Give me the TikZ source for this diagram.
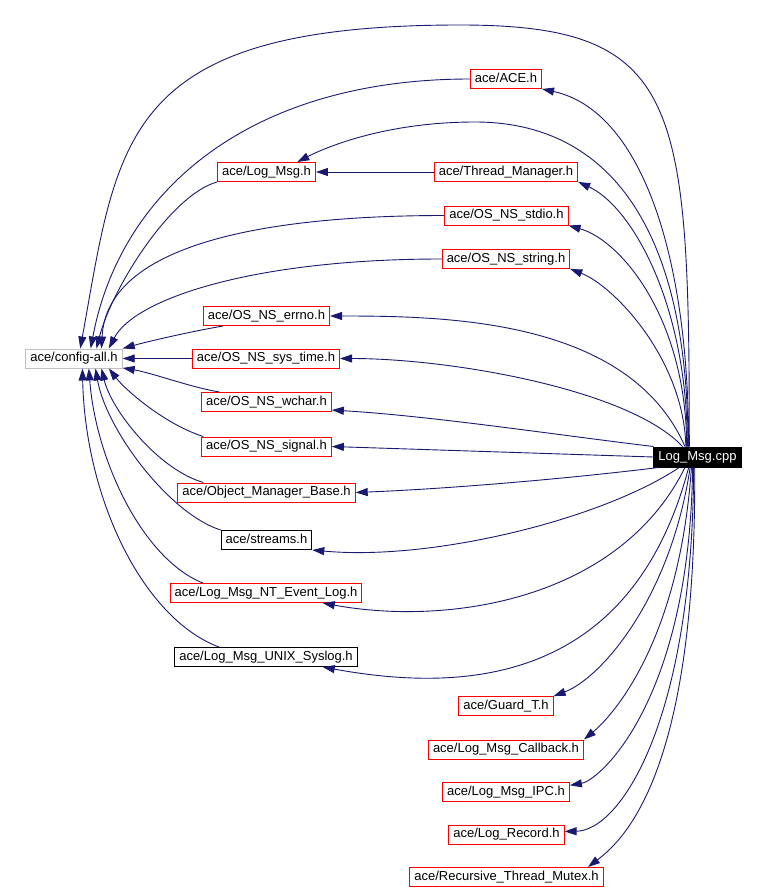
\documentclass[tikz,border=0pt]{standalone}
\usepackage{fontspec}
\setmainfont{Liberation Sans}
\usetikzlibrary{arrows.meta}
\definecolor{azul}{HTML}{191970}
\definecolor{rojo}{HTML}{FF0000}
\definecolor{gris}{HTML}{BFBFBF}
\tikzset{
	caja/.style={draw=#1, line width=1pt, minimum height=19pt, inner xsep=4.5pt, inner ysep=0pt,
	             text height=9.5pt, text depth=2.7pt},
	dep/.style={draw=azul, line width=0.9pt, -{Triangle[length=12pt,width=8pt]}}
}
\begin{document}
\begin{tikzpicture}[x=1pt, y=1pt, font=\fontsize{13pt}{15pt}\selectfont]
	\useasboundingbox (0,0) rectangle (766,-889);
	\foreach \n/\x/\y/\t/\c in {cfg/74/358.5/{ace/config-all.h}/gris,
	                            ace/506/79/{ace/ACE.h}/rojo, lmsg/266.5/172/{ace/Log\_Msg.h}/rojo,
	                            thread/506/172/{ace/Thread\_Manager.h}/rojo, stdio/506.5/215.5/{ace/OS\_NS\_stdio.h}/rojo,
	                            string/506/259/{ace/OS\_NS\_string.h}/rojo, errno/266.5/316/{ace/OS\_NS\_errno.h}/rojo,
	                            systime/266/358.5/{ace/OS\_NS\_sys\_time.h}/rojo, wchar/266.5/402/{ace/OS\_NS\_wchar.h}/rojo,
	                            signal/266.5/446.5/{ace/OS\_NS\_signal.h}/rojo, omb/266.5/492.5/{ace/Object\_Manager\_Base.h}/rojo,
	                            streams/266.5/540/{ace/streams.h}/black, nt/266/593/{ace/Log\_Msg\_NT\_Event\_Log.h}/rojo,
	                            unix/266/657/{ace/Log\_Msg\_UNIX\_Syslog.h}/black, guard/506/706/{ace/Guard\_T.h}/rojo,
	                            cb/506/749.5/{ace/Log\_Msg\_Callback.h}/rojo, ipc/506/792/{ace/Log\_Msg\_IPC.h}/rojo,
	                            logrec/506.5/834.5/{ace/Log\_Record.h}/rojo, rtm/506.5/877/{ace/Recursive\_Thread\_Mutex.h}/rojo} {
		\node[caja=\c] (\n) at (\x,-\y) {\t};
	}
	\node[caja=black, fill=black, text=white, minimum height=20pt] (cpp) at (697.5,-457) {Log\_Msg.cpp};
	\draw[dep] (cpp.128) .. controls +(0,347) and +(220,0) .. (460,-25) .. controls +(-340,0) and +(38,209) .. (cfg.58);
	\draw[dep] (cpp.132) .. controls +(0,217) and +(135,0) .. (475,-122) .. controls +(-85,0) and +(33,17) .. (lmsg.18);
	\draw[dep] (systime.west) -- (cfg.east);
	\draw[dep] (thread.west) -- (lmsg.east);
	\draw[dep] (cpp.west) -- (signal.east);
	\foreach \s/\ax/\ay/\bx/\by/\t in {ace.west/-219/0/30/159/cfg.31, lmsg.south west/-47/-13/15/59/cfg.24,
	                                   stdio.west/-196/0/5/99/cfg.20, string.west/-191/0/25/49/cfg.16,
	                                   errno.193/-30/-5/25/7/cfg.north east, wchar.168/-30/5/30/-5/cfg.-11,
	                                   signal.171/-38/12/17/-22/cfg.-16, omb.171/-45/13/10/-42/cfg.-20,
	                                   streams.north west/-51/16/11/-62/cfg.-25, nt.171/-60/24/7/-92/cfg.-34,
	                                   unix.168/-75/28/3/-132/cfg.-50,
	                                   cpp.130/0/197/97/-21/ace.south east, cpp.134/0/147/51/-23/thread.south east,
	                                   cpp.136/0/127/53/-15/stdio.south east, cpp.138/-2/87/44/-17/string.south east,
	                                   cpp.140/-56/127/119/0/errno.east, cpp.145/-53/57/111/0/systime.east,
	                                   cpp.north west/-100/12/100/-6/wchar.-7, cpp.195/-80/-10/100/4/omb.east,
	                                   cpp.-150/-80/-53/118/-11/streams.south east, cpp.-140/-66/-133/125/-23/nt.-10,
	                                   cpp.-130/-59/-223/132/-24/unix.-10, cpp.-125/-20/-133/46/17/guard.north east,
	                                   cpp.-120/-12/-173/30/25/cb.north east, cpp.-115/-3/-233/30/5/ipc.6,
	                                   cpp.-110/-1/-253/56/1/logrec.3, cpp.-105/2/-303/37/28/rtm.7} {
		\draw[dep] (\s) .. controls +(\ax,\ay) and +(\bx,\by) .. (\t);
	}
\end{tikzpicture}
\end{document}
